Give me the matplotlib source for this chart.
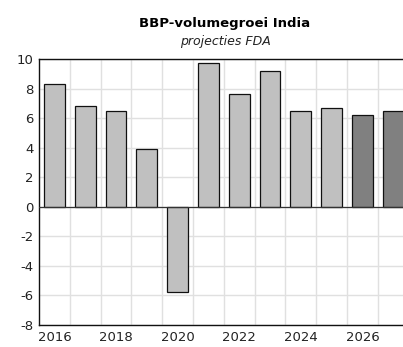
import matplotlib
matplotlib.use("Agg")
import matplotlib.pyplot as plt

# data
years = [2016, 2017, 2018, 2019, 2020, 2021, 2022, 2023, 2024, 2025, 2026, 2027]
growth = [8.3, 6.8, 6.5, 3.9, -5.8, 9.7, 7.6, 9.2, 6.5, 6.7, 6.2, 6.5]
projection = [False] * 10 + [True] * 2
yticks = [-8, -6, -4, -2, 0, 2, 4, 6, 8, 10]

plt.rcParams["font.family"] = ["DejaVu Sans"]

fig = plt.figure(figsize=(4.03, 3.47), dpi=100)
ax = fig.add_axes([39 / 403, 22 / 347, 369.6 / 403, 266 / 347])

pos = list(range(len(years)))
colors = ["#808080" if p else "#c0c0c0" for p in projection]
ax.bar(pos, growth, width=0.67, color=colors, edgecolor="#111111", linewidth=0.9, zorder=3)
ax.axhline(0, color="#333333", linewidth=0.9, zorder=4)

ax.set_xlim(-0.5, len(years) - 0.5)
ax.set_ylim(-8, 10)
ax.set_yticks(yticks)
ax.set_yticklabels([str(v) for v in yticks], fontsize=9.5, color="#222222")
ax.set_xticks(pos[::2])
ax.set_xticklabels([str(y) for y in years[::2]], fontsize=9.5, color="#222222")
ax.set_xticks([p + 0.5 for p in pos[:-1]], minor=True)
ax.tick_params(which="both", length=0, pad=4)
ax.grid(axis="y", color="#e0e0e0", linewidth=1.0, zorder=0)
ax.grid(axis="x", which="minor", color="#e0e0e0", linewidth=1.0, zorder=0)
ax.grid(axis="x", which="major", visible=False)

for side in ["left", "bottom", "top"]:
    ax.spines[side].set_color("#111111")
    ax.spines[side].set_linewidth(1.0)
ax.spines["right"].set_visible(False)

fig.text(225 / 403, 1 - 24 / 347, "BBP-volumegroei India", ha="center", va="center",
         fontsize=9.5, fontweight="bold")
fig.text(225 / 403, 1 - 42 / 347, "projecties FDA", ha="center", va="center",
         fontsize=9, style="italic", color="#222222")

fig.savefig("out.png", dpi=100)
